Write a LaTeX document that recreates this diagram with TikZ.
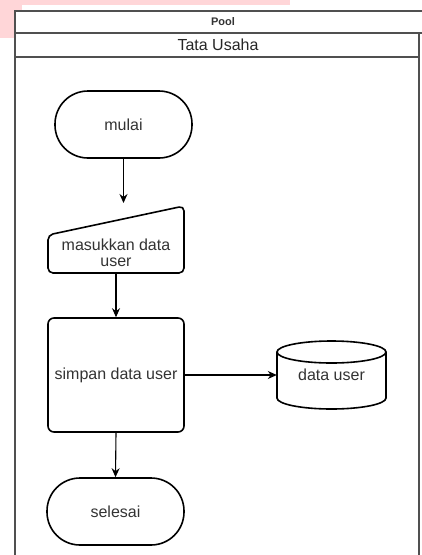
\documentclass[tikz,border=0pt]{standalone}
\usepackage{fontspec}
\setmainfont{Liberation Sans}
\usetikzlibrary{arrows.meta}
\definecolor{pinkish}{RGB}{255,214,216}
\definecolor{txtgray}{RGB}{51,51,51}
\definecolor{lanegray}{RGB}{80,80,80}
\begin{document}
\begin{tikzpicture}[x=1pt,y=-1pt,
  font=\fontsize{16}{18}\selectfont,
  shapeline/.style={draw=black, line width=1.6pt},
  txt/.style={text=txtgray, align=center},
  arr/.style={-{Stealth[length=9pt,width=8pt]}, line width=1.1pt, draw=black},
  term/.style={shapeline, rounded corners=33pt, minimum width=137pt, minimum height=67pt, txt},
  procbox/.style={shapeline, rounded corners=6pt, minimum width=136pt, minimum height=114pt, txt},
  ghost/.style={inner sep=0pt, txt},
  laneline/.style={draw=lanegray, line width=1.3pt}]
\useasboundingbox (0,0) rectangle (422,555);
% pink overlay
\fill[pinkish] (0,0) rectangle (290,5);
\fill[pinkish] (0,0) rectangle (22,38);
% pool and lane
\fill[white] (15,11) rectangle (430,560);
\draw[laneline] (15,560) -- (15,11) -- (430,11);
\draw[laneline] (15,33) -- (430,33);
\draw[laneline] (15,57) -- (419,57);
\draw[laneline] (419,33) -- (419,560);
\node[ghost, font=\fontsize{11}{13}\selectfont\bfseries] (pooltitle) at (223,22) {Pool};
\node[ghost, text=black!85] (lanetitle) at (218,45) {Tata Usaha};
% start
\node[term] (start) at (123.5,124.5) {mulai};
% manual input
\node[inner sep=0pt, minimum width=136pt, minimum height=67pt] (input) at (116,239.5) {};
\draw[shapeline, rounded corners=5pt] (48,235) -- (184,206) -- (184,273) -- (48,273) -- cycle;
\node[ghost] (inputtxt) at (116,253) {masukkan data\\[-2pt]user};
% process
\node[procbox] (proc) at (116,375) {simpan data user};
% data store cylinder
\node[inner sep=0pt, minimum width=109pt, minimum height=68pt] (db) at (331.5,375) {};
\draw[shapeline, fill=white] (277,352) -- (277,398) arc[start angle=180, end angle=360, x radius=54.5pt, y radius=11pt] -- (386,352) arc[start angle=0, end angle=180, x radius=54.5pt, y radius=11pt] -- cycle;
\draw[shapeline] (277,352) arc[start angle=180, end angle=360, x radius=54.5pt, y radius=11pt];
\node[ghost] (dbtxt) at (331.5,375) {data user};
% end
\node[term] (stop) at (115.5,511.5) {selesai};
% connectors
\coordinate (inTop) at (123.5,203);
\draw[arr] (start.south) -- (inTop);
\draw[arr] (input.south) -- (proc.north);
\draw[arr] (proc.east) -- (db.west);
\draw[arr] (proc.south) -- (stop.north);
\end{tikzpicture}
\end{document}
